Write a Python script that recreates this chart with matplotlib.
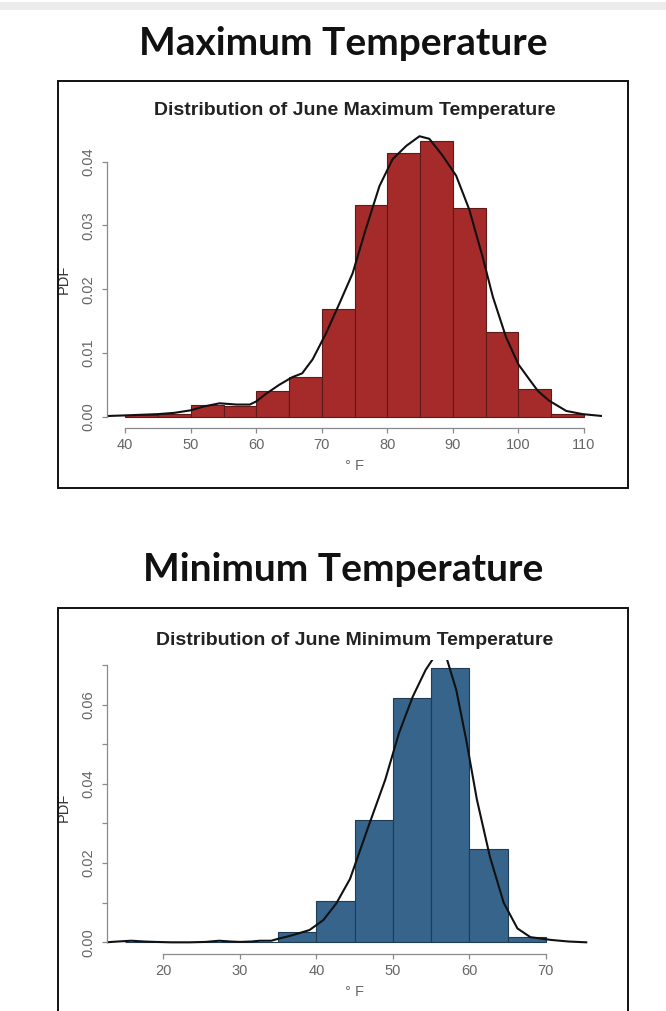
import matplotlib
matplotlib.use("Agg")
import matplotlib.pyplot as plt
from matplotlib.patches import Rectangle

# histogram bins (5 degree wide) and density values
max_edges = [40, 45, 50, 55, 60, 65, 70, 75, 80, 85, 90, 95, 100, 105, 110]
max_hist = [0.0002, 0.0004, 0.0019, 0.0016, 0.0041, 0.0062, 0.0169, 0.0332,
            0.0414, 0.0433, 0.0327, 0.0133, 0.0044, 0.0004]

min_edges = [15, 20, 25, 30, 35, 40, 45, 50, 55, 60, 65, 70]
min_hist = [0.0002, 0.0000, 0.0001, 0.0002, 0.0027, 0.0104, 0.0309, 0.0616,
            0.0692, 0.0236, 0.0013]

# kernel density curves
max_kde_x = [37.1, 40, 42.5, 45, 47.5, 50, 52, 54.4, 57, 59, 60, 61.5, 63.5,
             65.5, 67, 68.6, 70.6, 72.7, 74.7, 76.7, 78.8, 80.8, 82.9, 84.9,
             86.4, 88.4, 90.5, 92.5, 94.5, 96.1, 98.1, 100, 101.7, 103, 104.7,
             107.3, 109.8, 112.8]
max_kde_y = [0.0001, 0.0002, 0.0003, 0.0004, 0.0006, 0.0010, 0.0016, 0.0021,
             0.0019, 0.0019, 0.0024, 0.0036, 0.0050, 0.0062, 0.0068, 0.0090,
             0.0130, 0.0178, 0.0225, 0.0294, 0.0362, 0.0404, 0.0425, 0.0440,
             0.0436, 0.0410, 0.0378, 0.0325, 0.0252, 0.0188, 0.0125, 0.0082,
             0.0058, 0.0040, 0.0025, 0.0009, 0.0004, 0.0001]

min_kde_x = [12.5, 14, 15.8, 17.5, 19, 21, 23.4, 25.5, 27.3, 28.8, 30, 31.5,
             32.6, 34.1, 35.2, 36.3, 37.4, 39.1, 40.9, 42.6, 44.4, 46.8, 49,
             50.8, 52.6, 54.3, 55.4, 56.2, 57, 58.3, 59.6, 61, 62.7, 64.5,
             66.3, 68, 70.7, 73, 75.3]
min_kde_y = [0.0000, 0.0002, 0.0004, 0.0002, 0.0001, 0.0000, 0.0000, 0.0001,
             0.0004, 0.0002, 0.0001, 0.0002, 0.0004, 0.0004, 0.0010, 0.0015,
             0.0021, 0.0031, 0.0056, 0.0098, 0.0160, 0.0292, 0.0410, 0.0528,
             0.0620, 0.0688, 0.0720, 0.0735, 0.0720, 0.0637, 0.0511, 0.0360,
             0.0216, 0.0100, 0.0035, 0.0013, 0.0006, 0.0002, 0.0000]

max_xticks = [40, 50, 60, 70, 80, 90, 100, 110]
max_yticks = [0.00, 0.01, 0.02, 0.03, 0.04]
max_ylabels = ["0.00", "0.01", "0.02", "0.03", "0.04"]
min_xticks = [20, 30, 40, 50, 60, 70]
min_yticks = [0.00, 0.01, 0.02, 0.03, 0.04, 0.05, 0.06, 0.07]
min_ylabels = ["0.00", "", "0.02", "", "0.04", "", "0.06", ""]

W, H = 666, 1011
fig = plt.figure(figsize=(W / 100, H / 100), dpi=100)
fig.patch.set_facecolor("white")


def px(x0, y0, x1, y1):
    # pixel box (from top left) -> figure fraction rect
    return [x0 / W, 1 - y1 / H, (x1 - x0) / W, (y1 - y0) / H]


def r_hist(ax, edges, vals, kx, ky, color, edge, title, xlim, ylim,
           xticks, yticks, ylabels):
    widths = [edges[i + 1] - edges[i] for i in range(len(vals))]
    ax.bar(edges[:-1], vals, width=widths, align="edge", color=color,
           edgecolor=edge, linewidth=0.8)
    ax.plot(kx, ky, color="#111111", linewidth=1.5)
    ax.set_xlim(*xlim)
    ax.set_ylim(*ylim)

    # R style axes: only left and bottom, spanning the ticks
    for s in ["top", "right"]:
        ax.spines[s].set_visible(False)
    ax.spines["left"].set_bounds(yticks[0], yticks[-1])
    ax.spines["bottom"].set_bounds(xticks[0], xticks[-1])
    for s in ["left", "bottom"]:
        ax.spines[s].set_color("#8a8a8a")
        ax.spines[s].set_linewidth(0.9)

    ax.set_xticks(xticks)
    ax.set_xticklabels([str(t) for t in xticks])
    ax.set_yticks(yticks)
    ax.set_yticklabels(ylabels, rotation=90, va="center")
    ax.tick_params(colors="#8a8a8a", labelcolor="#666666", length=3.6,
                   width=0.9, labelsize=10.5, pad=3.5)
    ax.tick_params(axis="y", pad=5)
    for lab in ax.get_xticklabels() + ax.get_yticklabels():
        lab.set_fontfamily("Liberation Sans")

    ax.set_title(title, fontsize=14, fontweight="bold", color="#222222",
                 fontfamily="Liberation Sans", pad=11)
    ax.set_ylabel("PDF", fontsize=10.5, color="#333333",
                  fontfamily="Liberation Sans")
    ax.yaxis.set_label_coords(-0.072, 0.5)
    ax.set_xlabel("° F", fontsize=10.5, color="#666666",
                  fontfamily="Liberation Sans")
    ax.xaxis.label.set_va("center")
    ax.xaxis.set_label_coords(0.5, -0.129)


# grey strip at the very top of the page
fig.add_artist(Rectangle((0, 1 - 9.5 / H), 1, 7.5 / H, transform=fig.transFigure,
                         facecolor="#ececec", edgecolor="none"))

# section headings
fig.text(343 / W, 1 - 55 / H, "Maximum Temperature", ha="center", va="baseline",
         fontsize=28, fontweight="bold", fontfamily="Lato", color="#111111")
fig.text(343 / W, 1 - 581 / H, "Minimum Temperature", ha="center", va="baseline",
         fontsize=28, fontweight="bold", fontfamily="Lato", color="#111111")

# black frames around the two R images
fig.add_artist(Rectangle((58 / W, 1 - 488 / H), 570 / W, 407.3 / H,
                         transform=fig.transFigure, fill=False,
                         edgecolor="#111111", linewidth=1.4))
fig.add_artist(Rectangle((58 / W, -0.01), 570 / W, 1 - 607.7 / H + 0.01,
                         transform=fig.transFigure, fill=False,
                         edgecolor="#111111", linewidth=1.4))

ax1 = fig.add_axes(px(106.9, 130.5, 602.3, 427.7))
r_hist(ax1, max_edges, max_hist, max_kde_x, max_kde_y, "#a52a2a", "#5c1a1a",
       "Distribution of June Maximum Temperature", (37.2, 112.8),
       (-0.00173, 0.0449), max_xticks, max_yticks, max_ylabels)

ax2 = fig.add_axes(px(106.9, 659.9, 602.3, 953.8))
r_hist(ax2, min_edges, min_hist, min_kde_x, min_kde_y, "#36648b", "#1f3b55",
       "Distribution of June Minimum Temperature", (12.6, 77.4),
       (-0.0029, 0.0713), min_xticks, min_yticks, min_ylabels)

plt.savefig("out.png", dpi=100)
